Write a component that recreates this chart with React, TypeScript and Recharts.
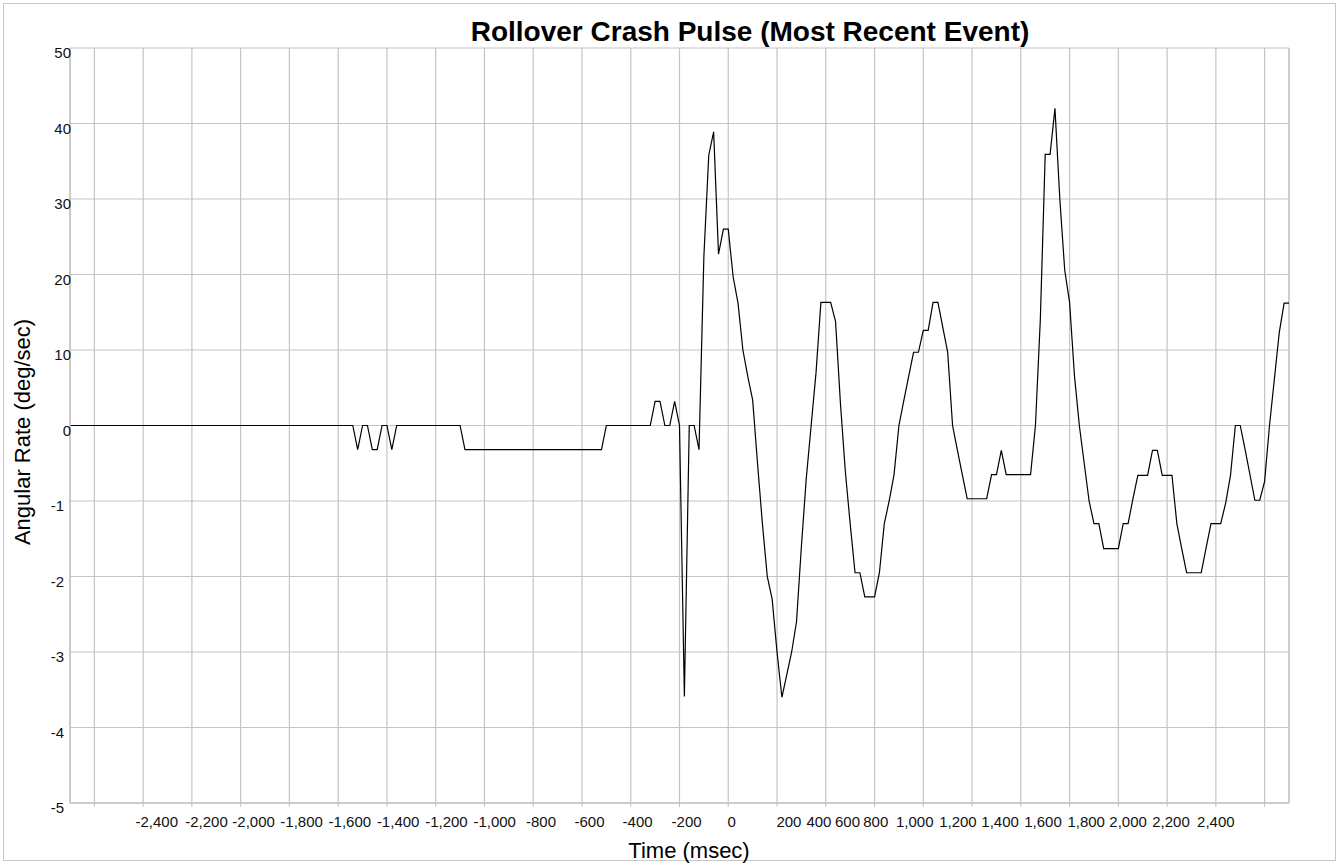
import React from "react";
import { LineChart, Line, XAxis, YAxis, CartesianGrid, ReferenceLine } from "recharts";

// time in msec, angular rate as plotted (the axis prints -10 as "-1" etc.)
const TIME_MS = [
  -2700, -1540, -1520, -1500, -1480, -1460, -1440, -1420, -1400, -1380, -1360,
  -1100, -1080, -520, -500, -320, -300, -280, -260, -240, -220, -200, -180,
  -160, -140, -120, -100, -80, -60, -40, -20, 0, 20, 40, 60, 80, 100, 120,
  140, 160, 180, 200, 220, 240, 260, 280, 300, 320, 340, 360, 380, 400, 420,
  440, 460, 480, 500, 520, 540, 560, 580, 600, 620, 640, 660, 680, 700, 720,
  740, 760, 780, 800, 820, 840, 860, 880, 900, 920, 940, 960, 980,
  1000, 1020, 1040, 1060, 1080, 1100, 1120, 1140, 1160, 1180, 1200, 1220, 1240,
  1260, 1280, 1300, 1320, 1340, 1360, 1380, 1400, 1420, 1440, 1460, 1480,
  1500, 1520, 1540, 1560, 1580, 1600, 1620, 1640, 1660, 1680, 1700, 1720,
  1740, 1760, 1780, 1800, 1820, 1840, 1860, 1880, 1900, 1920, 1940, 1960,
  1980, 2020, 2040, 2060, 2080, 2100, 2120, 2160, 2180, 2200, 2220, 2260,
  2280, 2300,
];
const RATE = [
  0, 0, -3.2, 0, 0, -3.2, -3.2, 0, 0, -3.2, 0,
  0, -3.2, -3.2, 0, 0, 3.2, 3.2, 0, 0, 3.2, 0, -35.9,
  0, 0, -3.2, 22.4, 35.8, 38.9, 22.7, 26, 26, 19.7, 16.2, 10, 6.5, 3.4, -5,
  -13, -20, -23, -30, -36, -33, -30, -26, -16, -7, 0, 7, 16.3, 16.3, 16.3,
  13.8, 3, -6, -13, -19.5, -19.5, -22.7, -22.7, -22.7, -19.5, -13, -10, -6.5, 0, 3.3,
  6.5, 9.7, 9.7, 12.6, 12.6, 16.3, 16.3, 13, 9.7, 0, -3.3, -6.5, -9.7,
  -9.7, -9.7, -9.7, -9.7, -6.5, -6.5, -3.3, -6.5, -6.5, -6.5, -6.5, -6.5, -6.5,
  0, 14, 35.9, 35.9, 42, 30, 20.6, 16.3, 6.6, 0, -5, -10,
  -13, -13, -16.3, -16.3, -16.3, -16.3, -13, -13, -9.7, -6.6, -6.6, -6.6,
  -3.3, -3.3, -6.6, -6.6, -6.6, -13, -16.3, -19.5, -19.5, -19.5, -19.5, -16.2,
  -13, -13, -10.3, -6.6, 0, 0, -3.2, -9.9, -9.9, -7.4, 0, 12.3,
  16.2, 16.2,
];

const Y_TICKS = [-50, -40, -30, -20, -10, 0, 10, 20, 30, 40, 50];
const Y_TICK_LABELS = ["-5", "-4", "-3", "-2", "-1", "0", "10", "20", "30", "40", "50"];

const GRID_TICKS = [
  -2600, -2400, -2200, -2000, -1800, -1600, -1400, -1200, -1000, -800, -600,
  -400, -200, 0, 200, 400, 600, 800, 1000, 1200, 1400, 1600, 1800, 2000, 2200,
];

// where the printed time labels sit along the axis (they don't line up with the grid)
const X_LABEL_AT = [
  -2344, -2140, -1947, -1750, -1552, -1354, -1156, -958, -768, -569, -372,
  -171, 14, 249, 372, 489, 605, 765, 942, 1115, 1291, 1468, 1640, 1816, 2000,
];
const X_LABELS = [
  "-2,400", "-2,200", "-2,000", "-1,800", "-1,600", "-1,400", "-1,200", "-1,000",
  "-800", "-600", "-400", "-200", "0", "200", "400", "600", "800", "1,000",
  "1,200", "1,400", "1,600", "1,800", "2,000", "2,200", "2,400",
];

const data = TIME_MS.map((t, i) => ({ t, v: RATE[i] }));

const FONT = "'Liberation Sans', Arial, sans-serif";
const GRID = "#c4c4c4";

const YTick = (props: any) => {
  const { x, y, payload, index } = props;
  const shift = payload.value < 0 ? 7 : 0;
  return (
    <text x={x + 1 - shift} y={y + 10} textAnchor="end" fontSize={15} fontFamily={FONT} fill="#111">
      {Y_TICK_LABELS[index]}
    </text>
  );
};

const XLabel = (props: any) => {
  const { x, y, payload } = props;
  const i = X_LABEL_AT.indexOf(payload.value);
  return (
    <text x={x} y={y + 23} textAnchor="middle" fontSize={15} fontFamily={FONT} fill="#111">
      {X_LABELS[i]}
    </text>
  );
};

export default function App() {
  return (
    <div style={{ position: "absolute", left: 0, top: 0, width: 1339, height: 864, background: "#fff" }}>
      <div
        style={{
          position: "absolute", left: 3, top: 3, width: 1333, height: 858,
          boxSizing: "border-box", border: "1px solid #c8c8c8",
        }}
      />
      <div style={{ position: "absolute", left: 0, top: 0 }}>
        <LineChart width={1339} height={864} data={data} margin={{ top: 48, right: 50, bottom: 0, left: 0 }}>
          <CartesianGrid xAxisId="grid" stroke={GRID} strokeWidth={1.2} />
          <XAxis
            xAxisId="grid"
            dataKey="t"
            type="number"
            domain={[-2700, 2300]}
            ticks={GRID_TICKS}
            height={1}
            tickSize={4}
            tick={() => <g />}
            tickLine={{ stroke: GRID }}
            axisLine={{ stroke: GRID, strokeWidth: 1.5 }}
            allowDataOverflow
          />
          <XAxis
            xAxisId="lab"
            dataKey="t"
            type="number"
            domain={[-2700, 2300]}
            ticks={X_LABEL_AT}
            height={60}
            tickSize={0}
            tickMargin={0}
            tickLine={false}
            axisLine={false}
            tick={XLabel}
            interval={0}
            allowDataOverflow
          />
          <YAxis
            type="number"
            domain={[-50, 50]}
            ticks={Y_TICKS}
            width={70}
            tickSize={0}
            tickMargin={0}
            tickLine={false}
            axisLine={{ stroke: GRID, strokeWidth: 1.5 }}
            tick={YTick}
            interval={0}
          />
          <ReferenceLine xAxisId="grid" x={2300} stroke={GRID} strokeWidth={1.2} />
          <Line
            xAxisId="grid"
            dataKey="v"
            type="linear"
            stroke="#000"
            strokeWidth={1.2}
            dot={false}
            isAnimationActive={false}
          />
          <text x={750} y={41} textAnchor="middle" fontSize={28} fontWeight="bold" fontFamily={FONT} fill="#000">
            Rollover Crash Pulse (Most Recent Event)
          </text>
          <text x={689} y={858} textAnchor="middle" fontSize={22} fontFamily={FONT} fill="#000">
            Time (msec)
          </text>
          <text
            x={22}
            y={432}
            textAnchor="middle"
            dominantBaseline="central"
            transform="rotate(-90, 22, 432)"
            fontSize={22}
            fontFamily={FONT}
            fill="#000"
          >
            Angular Rate (deg/sec)
          </text>
        </LineChart>
      </div>
    </div>
  );
}
